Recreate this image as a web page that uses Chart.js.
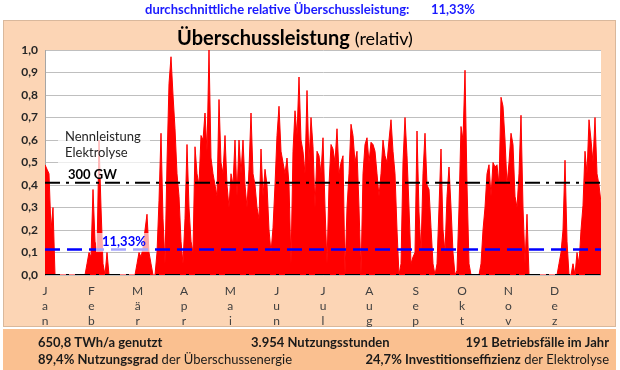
<!DOCTYPE html>
<html lang="de">
<head>
<meta charset="utf-8">
<title>Überschussleistung</title>
<script src="https://cdn.jsdelivr.net/npm/chart.js@4/dist/chart.umd.min.js"></script>
<style>
  body { margin: 0; background: #fff; }
  canvas { display: block; }
</style>
</head>
<body>
<canvas id="chart" width="620" height="370"></canvas>
<script>
/* Monate der x-Achse */
const monate = ['Jan', 'Feb', 'Mär', 'Apr', 'Mai', 'Jun', 'Jul', 'Aug', 'Sep', 'Okt', 'Nov', 'Dez'];

/* relative Ueberschussleistung ueber das Jahr (gleichmaessig ueber 12 Monate verteilt) */
const ueberschuss = [
  0.49, 0.47, 0.45, 0.20, 0.30, 0, 0, 0, 0, 0,
  0, 0, 0, 0, 0, 0, 0, 0, 0, 0,
  0, 0.05, 0.10, 0.08, 0.38, 0.15, 0.10, 0.60, 0.30, 0.05,
  0, 0.10, 0, 0, 0, 0, 0, 0, 0, 0,
  0, 0, 0, 0, 0, 0, 0.05, 0.10, 0.08, 0.12,
  0.20, 0.27, 0.10, 0.05, 0, 0, 0.10, 0.33, 0.63, 0.25,
  0.05, 0.50, 0.85, 0.97, 0.80, 0.65, 0.45, 0.35, 0.15, 0.05,
  0.25, 0.58, 0.30, 0.15, 0.10, 0.57, 0.45, 0.40, 0.62, 0.60,
  0.72, 0.55, 1.00, 0.52, 0.45, 0.40, 0.35, 0.78, 0.50, 0.45,
  0.62, 0.40, 0.30, 0.45, 0.40, 0.60, 0.35, 0.60, 0.45, 0.60,
  0.40, 0.30, 0.47, 0.72, 0.45, 0.40, 0.30, 0.25, 0.56, 0.35,
  0.47, 0.40, 0.20, 0.10, 0.21, 0.40, 0.62, 0.75, 0.55, 0.50,
  0.45, 0.52, 0.40, 0.05, 0.55, 0.73, 0.62, 0.88, 0.60, 0.55,
  0.45, 0.82, 0.50, 0.70, 0.57, 0.30, 0.55, 0.53, 0.45, 0.61,
  0.30, 0.05, 0.40, 0.58, 0.56, 0.50, 0.65, 0.45, 0.50, 0.53,
  0, 0.30, 0.45, 0.67, 0.62, 0.50, 0.55, 0.30, 0, 0.45,
  0.58, 0.61, 0.50, 0.59, 0.58, 0.55, 0.45, 0.35, 0.45, 0.60,
  0.53, 0.50, 0.60, 0.69, 0.55, 0.45, 0.20, 0, 0.05, 0.50,
  0.70, 0.53, 0.30, 0.05, 0.08, 0.10, 0.64, 0.28, 0.10, 0.45,
  0.63, 0.40, 0.38, 0.21, 0.05, 0, 0.05, 0.30, 0.56, 0.20,
  0.10, 0.35, 0.48, 0.30, 0.10, 0, 0.02, 0.30, 0.66, 0.60,
  0.91, 0.40, 0.05, 0, 0, 0, 0, 0, 0.05, 0.20,
  0.30, 0.45, 0.49, 0.35, 0.50, 0.48, 0.49, 0.40, 0.79, 0.75,
  0.60, 0.40, 0.50, 0.63, 0.58, 0.35, 0.30, 0.45, 0.71, 0.30,
  0.05, 0.27, 0, 0, 0, 0, 0, 0, 0, 0,
  0, 0, 0, 0, 0, 0, 0, 0.05, 0.10, 0.20,
  0.51, 0.15, 0, 0, 0.05, 0, 0.10, 0.05, 0.20, 0.31,
  0.55, 0.45, 0.69, 0.60, 0.50, 0.70, 0.45, 0.40, 0.32
];

const nennleistung = 0.41;   // 300 GW Elektrolyse
const mittelwert = 0.1133;   // durchschnittliche relative Ueberschussleistung

const schrift = 'Lato, "Open Sans", sans-serif';

/* Text aus mehreren Teilen (fett / normal) zeichnen */
function textTeile(ctx, teile, x, y, ausrichtung, groesse, farbe) {
  let gesamt = 0;
  const breiten = teile.map(t => {
    ctx.font = (t.fett ? 'bold ' : '') + (t.groesse || groesse) + 'px ' + schrift;
    const w = ctx.measureText(t.text).width;
    gesamt += w;
    return w;
  });
  let cx = x;
  if (ausrichtung == 'center') cx = x - gesamt / 2;
  if (ausrichtung == 'right') cx = x - gesamt;
  ctx.textAlign = 'left';
  ctx.textBaseline = 'middle';
  ctx.fillStyle = farbe;
  teile.forEach((t, i) => {
    ctx.font = (t.fett ? 'bold ' : '') + (t.groesse || groesse) + 'px ' + schrift;
    ctx.fillText(t.text, cx, y);
    cx += breiten[i];
  });
}

const rahmen = {
  id: 'rahmen',
  beforeDraw(chart) {
    const ctx = chart.ctx;
    const a = chart.chartArea;
    ctx.save();
    ctx.fillStyle = '#ffffff';
    ctx.fillRect(0, 0, chart.width, chart.height);
    /*Diagrammflaeche*/
    ctx.fillStyle = '#FCD5B5';
    ctx.fillRect(3, 20, 613, 307);
    ctx.strokeStyle = '#D9B89C';
    ctx.lineWidth = 1;
    ctx.strokeRect(3.5, 20.5, 612, 306);
    /*Kennzahlen-Leiste*/
    ctx.fillStyle = '#FAC090';
    ctx.fillRect(3, 329, 613, 41);
    /*Plotbereich*/
    ctx.fillStyle = '#ffffff';
    ctx.fillRect(a.left, a.top, a.right - a.left, a.bottom - a.top);
    ctx.restore();
  },
  afterDatasetsDraw(chart) {
    const ctx = chart.ctx;
    const y = chart.scales.y;
    ctx.save();
    ctx.fillStyle = 'rgba(255,255,255,0.72)';
    ctx.fillRect(58, 127, 92, 52);
    textTeile(ctx, [{ text: 'Nennleistung' }], 65, 137, 'left', 13, '#262626');
    textTeile(ctx, [{ text: 'Elektrolyse' }], 65, 153, 'left', 13, '#262626');
    textTeile(ctx, [{ text: '300 GW', fett: true }], 68, y.getPixelForValue(nennleistung) - 8, 'left', 13, '#000000');
    ctx.fillStyle = 'rgba(255,255,255,0.65)';
    ctx.fillRect(96, 233, 54, 19);
    textTeile(ctx, [{ text: '11,33%', fett: true }], 102, 242, 'left', 13, '#0000FF');
    ctx.restore();
  },
  afterDraw(chart) {
    const ctx = chart.ctx;
    ctx.save();
    textTeile(ctx, [{ text: 'durchschnittliche relative Überschussleistung:', fett: true }], 145, 10, 'left', 13, '#1A1AFF');
    textTeile(ctx, [{ text: '11,33%', fett: true }], 431, 10, 'left', 13, '#1A1AFF');

    textTeile(ctx, [{ text: 'Überschussleistung ', fett: true, groesse: 20 }, { text: '(relativ)', groesse: 18 }], 295, 39, 'center', 20, '#000000');

    textTeile(ctx, [{ text: '650,8 TWh/a genutzt', fett: true }], 38, 343, 'left', 13, '#1A1A1A');
    textTeile(ctx, [{ text: '3.954 Nutzungsstunden', fett: true }], 251, 343, 'left', 13, '#1A1A1A');
    textTeile(ctx, [{ text: '191 Betriebsfälle im Jahr', fett: true }], 609, 343, 'right', 13, '#1A1A1A');
    textTeile(ctx, [{ text: '89,4% Nutzungsgrad', fett: true }, { text: ' der Überschussenergie' }], 38, 360, 'left', 13, '#1A1A1A');
    textTeile(ctx, [{ text: '24,7% Investitionseffizienz', fett: true }, { text: ' der Elektrolyse' }], 609, 360, 'right', 13, '#1A1A1A');
    ctx.restore();
  }
};

const letzter = ueberschuss.length - 1;

new Chart(document.getElementById('chart'), {
  type: 'line',
  data: {
    datasets: [
      {
        label: 'Nennleistung',
        data: [{ x: 0, y: nennleistung }, { x: 12, y: nennleistung }],
        borderColor: '#000000',
        borderWidth: 2,
        borderDash: [15, 6, 3, 6],
        pointRadius: 0,
        fill: false,
        order: 1
      },
      {
        label: 'Null',
        data: [{ x: 0, y: 0 }, { x: 12, y: 0 }],
        borderColor: '#000000',
        borderWidth: 2,
        borderDash: [15, 6, 3, 6],
        pointRadius: 0,
        fill: false,
        order: 1
      },
      {
        label: 'Mittelwert',
        data: [{ x: 0, y: mittelwert }, { x: 12, y: mittelwert }],
        borderColor: '#0000FF',
        borderWidth: 2.5,
        borderDash: [15, 7],
        pointRadius: 0,
        fill: false,
        order: 1
      },
      {
        label: 'Überschussleistung',
        data: ueberschuss.map((v, i) => ({ x: i * 12 / letzter, y: v })),
        borderColor: '#FF0000',
        backgroundColor: '#FF0000',
        borderWidth: 1,
        pointRadius: 0,
        tension: 0,
        fill: 'origin',
        order: 2
      }
    ]
  },
  options: {
    responsive: false,
    animation: false,
    devicePixelRatio: 1,
    layout: { padding: { left: 0, top: 50, right: 19, bottom: 0 } },
    plugins: {
      legend: { display: false },
      tooltip: { enabled: false },
      title: { display: false }
    },
    scales: {
      x: {
        type: 'linear',
        min: 0,
        max: 12,
        afterFit(s) { s.height = 95; },
        afterBuildTicks(s) { s.ticks = monate.map((m, k) => ({ value: k })); },
        grid: { display: false, drawTicks: false },
        border: { display: false },
        ticks: {
          autoSkip: false,
          maxRotation: 0,
          padding: 9,
          color: '#404040',
          font: { family: schrift, size: 12, lineHeight: 1.25 },
          callback: v => monate[v] ? monate[v].split('') : ''
        }
      },
      y: {
        min: 0,
        max: 1,
        afterFit(s) { s.width = 45; },
        grid: { color: '#BFBFBF', lineWidth: 1, drawTicks: false },
        border: { display: true, color: '#A6A6A6' },
        ticks: {
          stepSize: 0.1,
          padding: 7,
          color: '#262626',
          font: { family: schrift, size: 12, weight: 'bold' },
          callback: v => v.toFixed(1).replace('.', ',')
        }
      }
    }
  },
  plugins: [rahmen]
});
</script>
</body>
</html>
